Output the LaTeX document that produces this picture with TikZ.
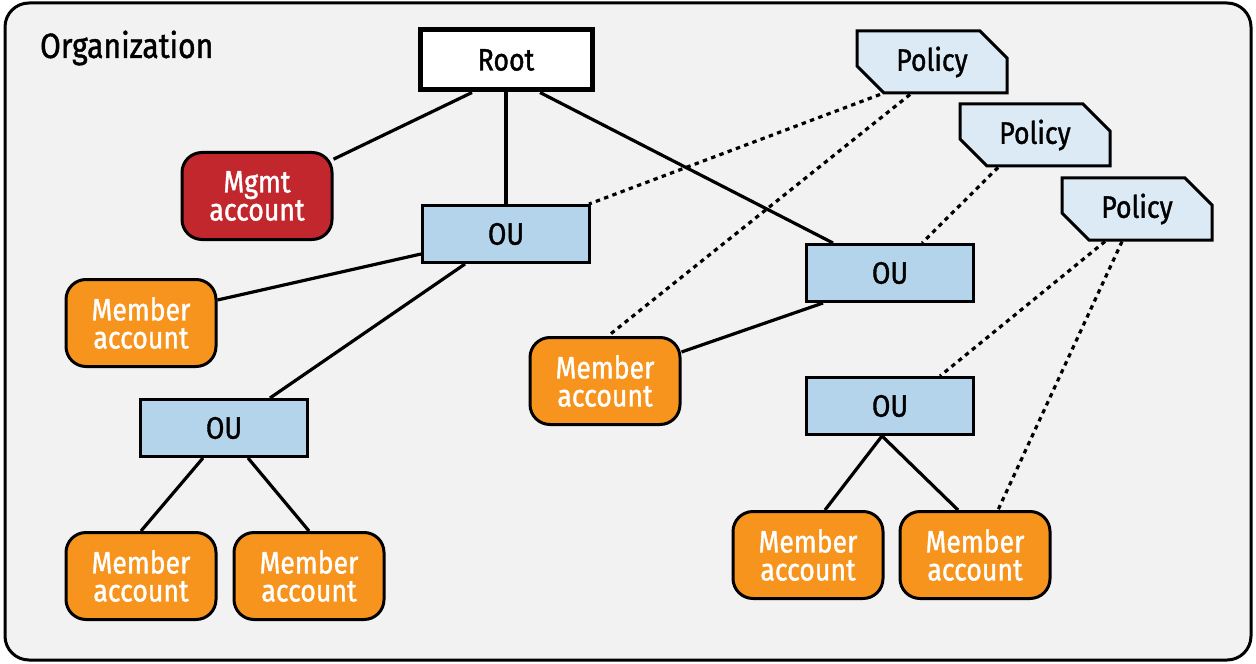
\documentclass[tikz,border=0pt]{standalone}
\usepackage{fontspec}
\setmainfont{Fira Sans}[FakeStretch=0.86, FakeBold=1.2]
\usetikzlibrary{calc,shapes.misc}
\definecolor{mgmtred}{HTML}{C1272D}
\definecolor{memberorange}{HTML}{F7941D}
\definecolor{oublue}{HTML}{B3D4EA}
\definecolor{policyblue}{HTML}{DCEAF5}
\definecolor{orgbg}{HTML}{F2F2F2}
\tikzset{
	account/.style={draw, line width=1.5pt, rounded corners=10pt, minimum width=75pt, minimum height=43.5pt, align=center, font=\fontsize{15.5}{14}\selectfont, inner sep=0pt},
	member/.style={account, fill=memberorange, text=white},
	mgmt/.style={account, fill=mgmtred, text=white},
	ou/.style={draw, line width=1.5pt, fill=oublue, minimum width=83.5pt, minimum height=28.5pt, font=\fontsize{15.5}{14}\selectfont},
	policy/.style={draw, line width=1.5pt, fill=policyblue, chamfered rectangle, chamfered rectangle corners={north east,south west}, chamfered rectangle xsep=10pt, minimum width=75pt, minimum height=31pt, font=\fontsize{15.5}{14}\selectfont},
	link/.style={line width=1.6pt},
	attach/.style={line width=1.6pt, dash pattern=on 2.2pt off 2.2pt}
}
\begin{document}
\begin{tikzpicture}[x=0.5pt, y=-0.5pt]
	\useasboundingbox (0,0) rectangle (1256,663);
	\draw[line width=1.5pt, fill=orgbg, rounded corners=12pt] (5,3) rectangle (1251,660);
	\node[anchor=west, font=\fontsize{17.5}{20}\selectfont] (org) at (33,48) {Organization};
	
	\node[draw, line width=2.5pt, fill=white, minimum width=86pt, minimum height=30pt, font=\fontsize{15.5}{14}\selectfont] (root) at (506,60) {Root};
	\node[mgmt] (mgmt) at (257,196) {Mgmt\\account};
	
	\node[ou] (ou1) at (506,234) {OU};
	\node[ou] (ou2) at (890,273) {OU};
	\node[ou] (ou3) at (224,428) {OU};
	\node[ou] (ou4) at (890,406) {OU};
	
	\foreach \name/\x/\y in {mem1/141/323, mem2/605/381, mem3/141/576, mem4/309/576, mem5/808/555, mem6/975/555}
	\node[member] (\name) at (\x,\y) {Member\\account};
	
	\foreach \name/\x/\y in {pol1/932/62, pol2/1035/135, pol3/1137/209}
	\node[policy] (\name) at (\x,\y) {Policy};
	
	% tree
	\draw[link] ($(root.south)+(-34,0)$) -- (mgmt);
	\draw[link] (root) -- (ou1);
	\draw[link] ($(root.south)+(34,0)$) -- ($(ou2.north west)+(28,0)$);
	\draw[link] ($(ou1.south west)+(0,-10)$) -- ($(mem1.east)+(0,-23)$);
	\draw[link] ($(ou1.south)+(-41,0)$) -- ($(ou3.north)+(46,0)$);
	\draw[link] ($(ou2.south west)+(18,0)$) -- ($(mem2.east)+(0,-29)$);
	\draw[link] ($(ou3.south)+(-21,0)$) -- (mem3.north);
	\draw[link] ($(ou3.south)+(24,0)$) -- (mem4.north);
	\draw[link] ($(ou4.south)+(-8,0)$) -- ($(mem5.north)+(17,0)$);
	\draw[link] ($(ou4.south)+(-8,0)$) -- ($(mem6.north)+(-17,0)$);
	
	% policies
	\draw[attach] ($(pol1.south)+(-52,0)$) -- ($(ou1.north east)+(-2,0)$);
	\draw[attach] ($(pol1.south)+(-22,0)$) -- ($(mem2.north)+(3,0)$);
	\draw[attach] ($(pol2.south)+(-37,0)$) -- ($(ou2.north)+(32,0)$);
	\draw[attach] ($(pol3.south)+(-32,0)$) -- ($(ou4.north)+(50,0)$);
	\draw[attach] ($(pol3.south)+(-15,0)$) -- ($(mem6.north)+(23,0)$);
\end{tikzpicture}
\end{document}
